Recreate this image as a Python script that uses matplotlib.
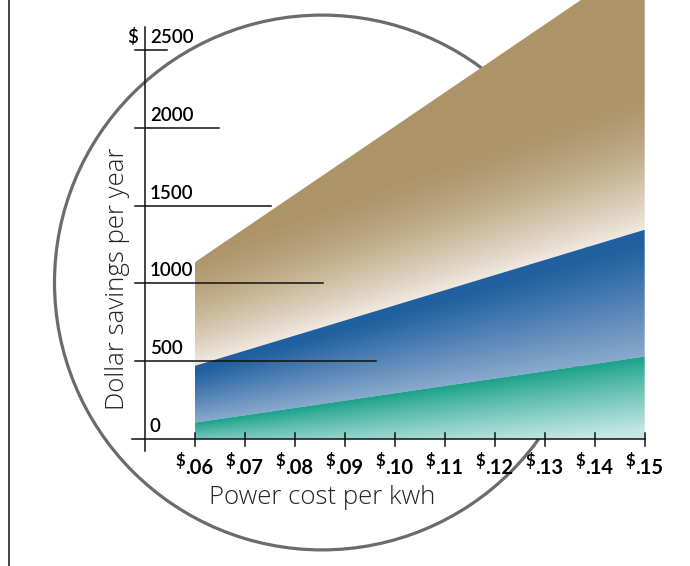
import numpy as np
import matplotlib
matplotlib.use("Agg")
import matplotlib.pyplot as plt
from matplotlib.patches import Ellipse
from matplotlib.colors import to_rgb
from matplotlib.transforms import offset_copy

# savings per year (dollars) at the two ends of the cost range
cost = [0.06, 0.15]
low_band = [105, 530]
mid_band = [470, 1345]
high_band = [1135, 3100]

xticks = [0.06, 0.07, 0.08, 0.09, 0.10, 0.11, 0.12, 0.13, 0.14, 0.15]
xtick_labels = [".06", ".07", ".08", ".09", ".10", ".11", ".12", ".13", ".14", ".15"]
yticks = [0, 500, 1000, 1500, 2000, 2500]
yrule_end = [0.15, 0.0962, 0.0857, 0.0753, 0.0649, 0.0545]

FONT = ["Lato", "DejaVu Sans"]
THIN = ["Open Sans", "DejaVu Sans"]

W, H = 690, 566
fig = plt.figure(figsize=(W / 100, H / 100), dpi=100)
ax = fig.add_axes([0, 0, 1, 1])

# pixel scale: 0.01 $/kwh = 50 px, 500 $ = 77.8 px, origin at (194.7, 439)
sx, sy = 5000.0, 77.8 / 500
x0px, y0px = 194.7, 439.0
px2x = lambda p: 0.06 + (p - x0px) / sx
py2y = lambda p: (y0px - p) / sy
XL, XR = px2x(0), px2x(W)
YB, YT = py2y(H), py2y(0)


def band(x, lo, hi, dark, light, shade, z):
    poly = ax.fill_between(x, lo, hi, facecolor="none", edgecolor="none", zorder=z)
    gx = np.linspace(x[0], x[-1], 400)
    gy = np.linspace(min(lo), max(hi), 400)
    X, Y = np.meshgrid(gx, gy)
    L = np.interp(X, x, lo)
    Hh = np.interp(X, x, hi)
    frac = np.clip((Hh - Y) / (Hh - L), 0, 1)
    dist = (Y - L) * sy  # pixels above the lower edge
    xn = (X - x[0]) / (x[-1] - x[0])
    f = shade(frac, dist, xn)[..., None]
    rgb = np.array(to_rgb(dark)) * (1 - f) + np.array(to_rgb(light)) * f
    im = ax.imshow(rgb, extent=(x[0], x[-1], gy[0], gy[-1]), origin="lower",
                   aspect="auto", interpolation="bilinear", zorder=z)
    im.set_clip_path(poly.get_paths()[0], ax.transData)


# background ring
cx, cy, r = 321.9, 282.5, 267.4
ax.add_patch(Ellipse((px2x(cx), py2y(cy)), 2 * r / sx, 2 * r / sy, fill=False,
                     edgecolor="#6b6b6b", lw=2.3, zorder=1))

band(cost, mid_band, high_band, "#ad9468", "#f0e9df",
     lambda f, d, xn: np.clip(1 - d / (115 + 25 * xn), 0, 1) ** 1.5, 2)
band(cost, low_band, mid_band, "#2160a0", "#8aaacd",
     lambda f, d, xn: np.clip((f - 0.1) / 0.9, 0, 1) ** 1.1, 2)
band(cost, [0, 0], low_band, "#18a08a", "#c6e8e4",
     lambda f, d, xn: np.clip(f * (0.5 + 0.6 * xn), 0, 1) ** 0.9, 2)

# axes drawn by hand
lc = "#111111"
ax.plot([px2x(145), px2x(145)], [py2y(27), py2y(451)], color=lc, lw=1.1, zorder=5)
ax.plot([px2x(132), xticks[-1]], [0, 0], color=lc, lw=1.1, zorder=5)
for v, xe in zip(yticks[1:], yrule_end[1:]):
    ax.plot([px2x(135), xe], [v, v], color=lc, lw=1.1, zorder=5)
for t in xticks:
    ax.plot([t, t], [py2y(433), py2y(446)], color=lc, lw=1.1, zorder=5)

# y tick labels
for v in yticks:
    ax.text(px2x(150), v, str(v), transform=offset_copy(ax.transData, fig, y=4, units="dots"),
            ha="left", va="bottom", fontsize=13.5, fontweight="semibold", family=FONT, zorder=6)
ax.text(px2x(138), yticks[-1], "$", transform=offset_copy(ax.transData, fig, y=4, units="dots"),
        ha="right", va="bottom", fontsize=13.5, fontweight="semibold", family=FONT, zorder=6)

# x tick labels: small raised dollar sign and bold cents
for t, lab in zip(xticks, xtick_labels):
    ax.text(t, 0, lab, transform=offset_copy(ax.transData, fig, x=-10, y=-35, units="dots"),
            ha="left", va="baseline", fontsize=14.5, fontweight="bold", family=FONT, zorder=6)
    ax.text(t, 0, "$", transform=offset_copy(ax.transData, fig, x=-10, y=-27, units="dots"),
            ha="right", va="baseline", fontsize=12, fontweight="bold", family=FONT, zorder=6)

ax.text(px2x(322), py2y(497), "Power cost per kwh", ha="center", va="center",
        fontsize=18.5, fontweight="light", family=THIN, color="#222222")
ax.text(px2x(118), py2y(279), "Dollar savings per year", ha="center", va="center",
        rotation=90, fontsize=18.5, fontweight="light", family=THIN, color="#222222")

# left frame rule
ax.plot([px2x(8.5), px2x(8.5)], [YB, YT], color=lc, lw=1.1, zorder=5)

ax.set_xlim(XL, XR)
ax.set_ylim(YB, YT)
ax.axis("off")
fig.savefig("out.png", dpi=100)
